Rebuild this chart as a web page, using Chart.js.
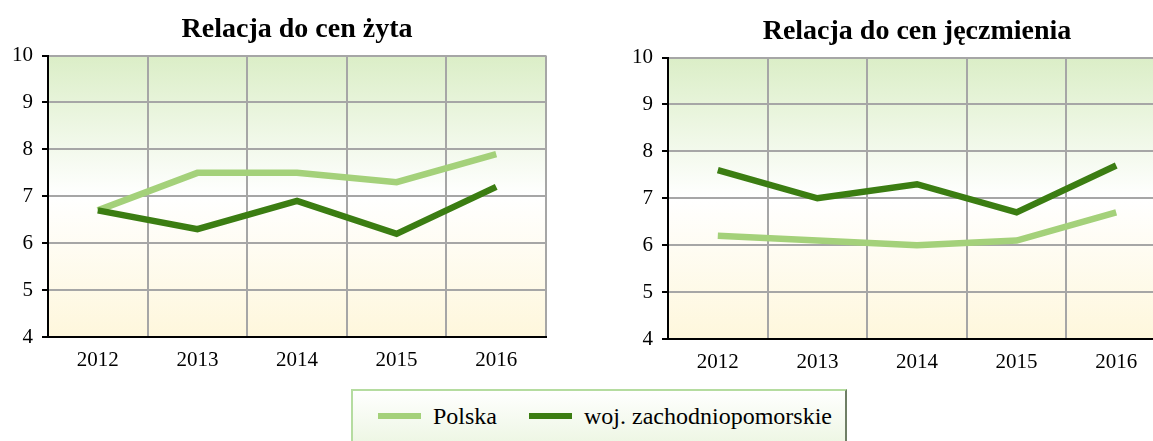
<!DOCTYPE html>
<html lang="pl">
<head>
<meta charset="utf-8">
<script src="https://cdn.jsdelivr.net/npm/chart.js@4/dist/chart.umd.min.js"></script>
<style>
  html, body { margin: 0; padding: 0; background: #fff; overflow: hidden; }
  body { width: 1153px; height: 441px; position: relative; font-family: "Liberation Serif", "Times New Roman", serif; }
  canvas { position: absolute; }
  #chartRye { left: 0; top: 0; }
  #chartBarley { left: 620px; top: 2px; }
  .legend {
    position: absolute; left: 351px; top: 389px; width: 492px; height: 70px;
    border-top: 2px solid #b5dca0; border-left: 2px solid #b5dca0;
    border-right: 2px solid #6f7f66;
    background: linear-gradient(to bottom, #ffffff 0%, #e7f3da 100%);
  }
  .legend .sample { position: absolute; top: 22px; height: 6px; }
  .legend .label { position: absolute; top: 11px; font-size: 24px; line-height: 28px; color: #000; white-space: nowrap; }
</style>
</head>
<body>
<canvas id="chartRye" width="560" height="370"></canvas>
<canvas id="chartBarley" width="560" height="370"></canvas>
<div class="legend">
  <div class="sample" style="left:25px;width:43px;background:#a4d17a"></div>
  <div class="label" style="left:80px">Polska</div>
  <div class="sample" style="left:176px;width:43px;background:#3b7d12"></div>
  <div class="label" style="left:231px">woj. zachodniopomorskie</div>
</div>
<script>
const years = ["2012", "2013", "2014", "2015", "2016"];
const seriesNames = ["Polska", "woj. zachodniopomorskie"];

// relacja do cen żyta
const ryePolska = [6.7, 7.5, 7.5, 7.3, 7.9];
const ryeRegion = [6.7, 6.3, 6.9, 6.2, 7.2];

// relacja do cen jęczmienia
const barleyPolska = [6.2, 6.1, 6.0, 6.1, 6.7];
const barleyRegion = [7.6, 7.0, 7.3, 6.7, 7.7];

const yTicks = [4, 5, 6, 7, 8, 9, 10];

const lightGreen = "#a4d17a";
const darkGreen = "#3b7d12";
const serif = "'Liberation Serif', 'Times New Roman', serif";

// gradient fill behind the plot area
const plotBackground = {
  id: "plotBackground",
  beforeDraw(chart) {
    const { ctx, chartArea: a } = chart;
    const g = ctx.createLinearGradient(0, a.top, 0, a.bottom);
    g.addColorStop(0, "#dbeec7");
    g.addColorStop(0.5, "#ffffff");
    g.addColorStop(1, "#fef7dc");
    ctx.save();
    ctx.fillStyle = g;
    ctx.fillRect(a.left, a.top, a.right - a.left, a.bottom - a.top);
    ctx.restore();
  },
};

function makeChart(id, title, polska, region) {
  return new Chart(document.getElementById(id), {
    type: "line",
    data: {
      labels: years,
      datasets: [
        {
          label: seriesNames[0],
          data: polska,
          borderColor: lightGreen,
          borderWidth: 6.5,
          pointRadius: 0,
          tension: 0,
          order: 1,
        },
        {
          label: seriesNames[1],
          data: region,
          borderColor: darkGreen,
          borderWidth: 6.5,
          pointRadius: 0,
          tension: 0,
          order: 0,
        },
      ],
    },
    options: {
      responsive: false,
      animation: false,
      layout: { padding: { left: 0, right: 14, top: 0, bottom: 0 } },
      plugins: {
        legend: { display: false },
        tooltip: { enabled: false },
        title: {
          display: true,
          text: title,
          fullSize: false,
          color: "#000",
          font: { family: serif, size: 28, weight: "bold" },
          padding: { top: 13, bottom: 9 },
        },
      },
      scales: {
        x: {
          offset: true,
          grid: { offset: true, color: "#a6a6a6", lineWidth: 2, drawTicks: false },
          border: { color: "#000", width: 2 },
          ticks: { color: "#000", padding: 11, font: { family: serif, size: 21 } },
          afterFit: (s) => { s.height = 33; },
        },
        y: {
          min: 4,
          max: 10,
          afterBuildTicks: (s) => { s.ticks = yTicks.map((v) => ({ value: v })); },
          grid: { color: "#a6a6a6", lineWidth: 2, tickColor: "#000", tickLength: 6, tickWidth: 2 },
          border: { color: "#000", width: 2 },
          ticks: { color: "#000", padding: 9, font: { family: serif, size: 21 } },
          afterFit: (s) => { s.width = 48; },
        },
      },
    },
    plugins: [plotBackground],
  });
}

makeChart("chartRye", "Relacja do cen żyta", ryePolska, ryeRegion);
makeChart("chartBarley", "Relacja do cen jęczmienia", barleyPolska, barleyRegion);
</script>
</body>
</html>
